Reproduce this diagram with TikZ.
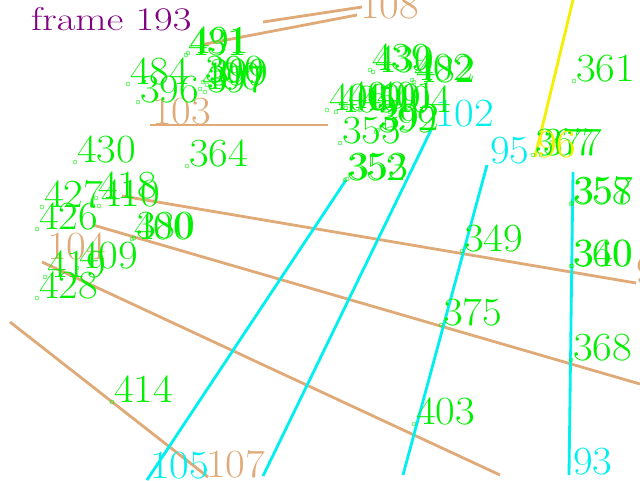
\documentclass[tikz,border=0pt]{standalone}
\usepackage{fontspec}
\setmainfont{Latin Modern Roman}
\usepackage{tikz}
\definecolor{TrackGreen}{HTML}{00F000}
\definecolor{TrackCyan}{HTML}{00F0F0}
\definecolor{TrackTan}{HTML}{E0AA78}
\definecolor{TrackYellow}{HTML}{F4F000}
\definecolor{FramePurple}{HTML}{800080}
\tikzset{
tracklbl/.style={font=\fontsize{40}{40}\selectfont, anchor=base west, inner sep=0pt, transform shape, xscale=1.07},
greenlbl/.style={tracklbl, text=TrackGreen},
cyanlbl/.style={tracklbl, text=TrackCyan},
tanlbl/.style={tracklbl, text=TrackTan},
yellowlbl/.style={tracklbl, text=TrackYellow},
greendot/.style={draw=TrackGreen, thin},
tanline/.style={draw=TrackTan, line width=2.8pt},
cyanline/.style={draw=TrackCyan, line width=2.8pt},
yellowline/.style={draw=TrackYellow, line width=2.8pt}
}
\newcommand{\trackpt}[4]{% name, x, y, text
  \draw[greendot] (#2,#3) circle (2);
  \node[greenlbl] (#1) at (#2+2,#3) {#4};}

\begin{document}
\begin{tikzpicture}[x=1pt, y=-1pt]
  \useasboundingbox (0,0) rectangle (640,480);
  \clip (0,0) rectangle (640,480);
  \fill[white] (0,0) rectangle (640,480);
  % tan tracks
  \draw[tanline] (263,22) -- (362,7);
  \draw[tanline] (200,45) -- (357,15);
  \draw[tanline] (150,125) -- (328,125);
  \draw[tanline] (122,196) -- (636,283);
  \draw[tanline] (93,225) -- (640,384);
  \draw[tanline] (42,262) -- (500,475);
  \draw[tanline] (10,322) -- (208,477);
  % cyan and yellow tracks
  \draw[cyanline] (432,128) -- (263,476);
  \draw[cyanline] (487,165) -- (403,475);
  \draw[cyanline] (346,180) -- (147,480);
  \draw[cyanline] (573,172) -- (569,475);
  \draw[yellowline] (573,0) -- (535,157);
  % frame title
  \node[tracklbl, text=FramePurple, font=\fontsize{33}{33}\selectfont, xscale=1.15] (frame) at (31,30) {frame 193};
  % track ids of lines
  \node[tanlbl] (t108) at (360,18) {108};
  \node[tanlbl] (t103) at (152,124) {103};
  \node[tanlbl] (t104) at (47,259) {104};
  \node[tanlbl] (t107) at (206,477) {107};
  \node[tanlbl] (t98) at (636,283) {98};
  \node[cyanlbl] (c102) at (435,126) {102};
  \node[cyanlbl] (c95) at (490,163) {95};
  \node[cyanlbl] (c105) at (150,478) {105};
  \node[cyanlbl] (c93) at (573,474) {93};
  % points, upper left
  \trackpt{p431}{186}{55}{431}
  \trackpt{p491}{188}{53}{491}
  \trackpt{p484}{128}{84}{484}
  \trackpt{p396}{138}{102}{396}
  \trackpt{p390}{203}{82}{390}
  \trackpt{p399a}{207}{85}{399}
  \trackpt{p397}{205}{92}{397}
  \trackpt{p400a}{200}{89}{400}
  % points, upper centre
  \trackpt{p439}{370}{70}{439}
  \trackpt{p430a}{373}{72}{430}
  \trackpt{p482}{414}{82}{482}
  \trackpt{p402}{412}{80}{402}
  \trackpt{p406}{327}{110}{406}
  \trackpt{p405}{336}{112}{405}
  \trackpt{p400b}{346}{108}{400}
  \trackpt{p409a}{360}{110}{409}
  \trackpt{p401}{375}{108}{401}
  \trackpt{p404}{390}{112}{404}
  \trackpt{p399b}{376}{132}{399}
  \trackpt{p392}{378}{130}{392}
  \trackpt{p355}{340}{143}{355}
  \trackpt{p352}{345}{180}{352}
  \trackpt{p353}{347}{179}{353}
  % points, right
  \trackpt{p367}{533}{155}{367}
  \trackpt{p377}{541}{155}{377}
  \node[yellowlbl] (y96) at (537,157) {96};
  \trackpt{p361}{574}{81}{361}
  \trackpt{p358}{571}{204}{358}
  \trackpt{p357}{572}{203}{357}
  \trackpt{p360}{571}{266}{360}
  \trackpt{p340}{572}{266}{340}
  \trackpt{p368}{571}{360}{368}
  \trackpt{p349}{462}{251}{349}
  \trackpt{p375}{441}{325}{375}
  \trackpt{p403}{414}{424}{403}
  % points, left
  \trackpt{p430b}{75}{162}{430}
  \trackpt{p364}{187}{166}{364}
  \trackpt{p427}{42}{207}{427}
  \trackpt{p418}{96}{198}{418}
  \trackpt{p410}{99}{206}{410}
  \trackpt{p426}{37}{229}{426}
  \trackpt{p400c}{132}{239}{400}
  \trackpt{p380}{134}{238}{380}
  \trackpt{p419}{45}{277}{419}
  \trackpt{p409b}{77}{268}{409}
  \trackpt{p428}{37}{298}{428}
  \trackpt{p414}{112}{402}{414}
\end{tikzpicture}
\end{document}
